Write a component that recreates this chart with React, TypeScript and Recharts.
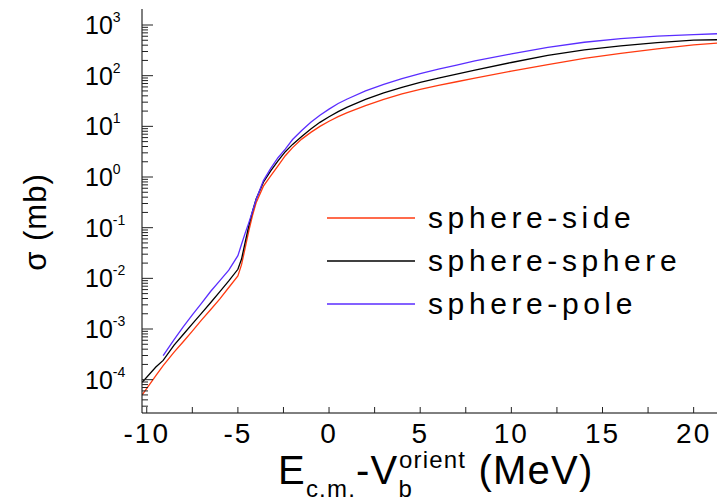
import { LineChart, Line, XAxis, YAxis, Legend, Label } from "recharts"

// E_cm - V_b (MeV)
const energies = [
  -10.25, -9.5, -9.1, -8.5, -8, -7.5, -7, -6.5, -6, -5.5, -5, -4.8, -4.6, -4.4, -4.2, -4,
  -3.6, -3.2, -2.8, -2.4, -2, -1.5, -1, -0.5, 0, 0.5, 1, 2, 3, 4, 5, 6, 7, 8, 10, 12, 14,
  16, 18, 20, 21.5,
]

// cross sections (mb)
const sideSigma = [
  5.0e-5, 1.2e-4, 1.9e-4, 3.5e-4, 5.6e-4, 9.1e-4, 1.5e-3, 2.4e-3, 3.9e-3, 6.6e-3, 1.12e-2,
  1.86e-2, 4.0e-2, 8.7e-2, 0.174, 0.31, 0.66, 1.05, 1.66, 2.63, 3.8, 5.6, 7.6, 10, 12.6,
  15.5, 18.6, 25.7, 33.9, 43.7, 53.7, 64.6, 75.9, 89.1, 123, 166, 219, 275, 339, 407, 447,
]
const sphereSigma = [
  8.9e-5, 1.78e-4, 2.4e-4, 4.8e-4, 7.8e-4, 1.26e-3, 2.04e-3, 3.3e-3, 5.4e-3, 8.9e-3,
  1.51e-2, 2.4e-2, 5.2e-2, 0.11, 0.21, 0.37, 0.79, 1.32, 2.09, 3.16, 4.4, 6.3, 8.9, 12.0,
  15.5, 19.5, 24.0, 33.9, 45.7, 58.9, 74.1, 89.1, 107, 129, 182, 251, 324, 389, 447, 501, 513,
]
const poleSigma = [
  null, null, 3.0e-4, 6.2e-4, 1.1e-3, 1.9e-3, 3.2e-3, 5.5e-3, 8.9e-3, 1.45e-2, 2.8e-2,
  4.7e-2, 7.8e-2, 0.126, 0.21, 0.36, 0.85, 1.48, 2.4, 3.55, 5.5, 8.3, 12.0, 16.6, 21.9,
  28.2, 34.7, 50.1, 67.6, 87.1, 110, 135, 162, 195, 269, 363, 457, 537, 603, 646, 676,
]

const seriesNames = ["sphere-side", "sphere-sphere", "sphere-pole"]

const xTicks = [-10, -7.5, -5, -2.5, 0, 2.5, 5, 7.5, 10, 12.5, 15, 17.5, 20]
const yMajorTicks = [1e-4, 1e-3, 1e-2, 1e-1, 1, 10, 100, 1000]
const yExponents = ["-4", "-3", "-2", "-1", "0", "1", "2", "3"]

const yMinorTicks = [1e-5, ...yMajorTicks.slice(0, -1)]
  .flatMap((d) => [2, 3, 4, 5, 6, 7, 8, 9].map((m) => +(d * m).toPrecision(3)))
  .filter((v) => v > 2.2e-5)
const yTicks = [...yMajorTicks, ...yMinorTicks]

const FONT = '"Liberation Sans", Arial, sans-serif'

const data = energies.map((e, i) => ({
  e,
  side: sideSigma[i],
  sphere: sphereSigma[i],
  pole: poleSigma[i],
}))

function YTick({ x, y, payload }: any) {
  const i = yMajorTicks.indexOf(payload.value)
  const major = i >= 0
  return (
    <g>
      <line x1={x} x2={x + (major ? 11 : 6)} y1={y} y2={y} stroke="#222" strokeWidth={1} />
      {major && (
        <text x={x - 57} y={y + 9} fontSize={25} fill="#000" fontFamily={FONT}>
          10
          <tspan dy={-12} fontSize={14}>
            {yExponents[i]}
          </tspan>
        </text>
      )}
    </g>
  )
}

function XTick({ x, y, payload }: any) {
  const v = payload.value
  const major = v % 5 === 0
  return (
    <g>
      <line x1={x} x2={x} y1={y} y2={y - 6} stroke="#222" strokeWidth={1} />
      {major && (
        <text
          x={x}
          y={y + 30}
          textAnchor="middle"
          fontSize={28}
          letterSpacing={2}
          fill="#000"
          fontFamily={FONT}
        >
          {v}
        </text>
      )}
    </g>
  )
}

function TopTick({ x, y }: any) {
  return <line x1={x} x2={x} y1={y} y2={y + 9} stroke="#222" strokeWidth={1} />
}

function LegendBox({ payload }: any) {
  const items = [...(payload ?? [])].sort(
    (a: any, b: any) => seriesNames.indexOf(a.value) - seriesNames.indexOf(b.value)
  )
  return (
    <svg width={400} height={150} style={{ display: "block", overflow: "visible" }}>
      {items.map((p: any, i: number) => (
        <g key={p.value}>
          <line x1={7} x2={95} y1={29 + 43 * i} y2={29 + 43 * i} stroke={p.color} strokeWidth={1.3} />
          <text
            x={108}
            y={39 + 43 * i}
            fontSize={30}
            letterSpacing={4.6}
            fill="#000"
            fontFamily={FONT}
          >
            {p.value}
          </text>
        </g>
      ))}
    </svg>
  )
}

export default function App() {
  return (
    <div
      style={{
        position: "absolute",
        left: 0,
        top: 0,
        width: 717,
        height: 503,
        overflow: "hidden",
        background: "#fff",
      }}
    >
      <LineChart
        width={721}
        height={503}
        data={data}
        margin={{ top: 9, right: 0, bottom: 0, left: 0 }}
        style={{ fontFamily: FONT }}
      >
        <XAxis
          dataKey="e"
          type="number"
          domain={[-10.26, 21.5]}
          allowDataOverflow
          ticks={xTicks}
          interval={0}
          tickLine={false}
          tickSize={0}
          tickMargin={0}
          height={90}
          axisLine={{ stroke: "#000", strokeWidth: 1 }}
          tick={<XTick />}
        >
          <Label
            content={() => (
              <text x={278} y={484} fontSize={40} letterSpacing={1.2} fill="#000" fontFamily={FONT}>
                E
                <tspan fontSize={24} dy={13}>
                  c.m.
                </tspan>
                <tspan fontSize={40} dy={-13}>
                  -V
                </tspan>
                <tspan fontSize={24} dy={13}>
                  b
                </tspan>
                <tspan fontSize={24} dx={-14} dy={-29}>
                  orient
                </tspan>
                <tspan fontSize={40} dy={16}>
                  {" (MeV)"}
                </tspan>
              </text>
            )}
          />
        </XAxis>
        <XAxis
          xAxisId="top"
          orientation="top"
          type="number"
          domain={[-10.26, 21.5]}
          allowDataOverflow
          ticks={xTicks}
          interval={0}
          tickLine={false}
          tickSize={0}
          tickMargin={0}
          height={0}
          axisLine={{ stroke: "#000", strokeWidth: 1 }}
          tick={<TopTick />}
        />
        <YAxis
          type="number"
          scale="log"
          domain={[2.2e-5, 2070]}
          allowDataOverflow
          ticks={yTicks}
          interval={0}
          tickLine={false}
          tickSize={0}
          tickMargin={0}
          width={142}
          axisLine={{ stroke: "#000", strokeWidth: 1 }}
          tick={<YTick />}
        >
          <Label
            content={() => (
              <text
                x={46}
                y={222}
                transform="rotate(-90, 46, 222)"
                textAnchor="middle"
                fontSize={31}
                letterSpacing={1}
                fill="#000"
                fontFamily={FONT}
              >
                σ (mb)
              </text>
            )}
          />
        </YAxis>
        <Legend
          layout="vertical"
          align="center"
          verticalAlign="middle"
          wrapperStyle={{ left: 320, top: 189, width: 400 }}
          content={<LegendBox />}
        />
        <Line
          dataKey="side"
          name="sphere-side"
          type="linear"
          stroke="#ff3a10"
          strokeWidth={1.3}
          dot={false}
          isAnimationActive={false}
        />
        <Line
          dataKey="sphere"
          name="sphere-sphere"
          type="linear"
          stroke="#000000"
          strokeWidth={1.3}
          dot={false}
          isAnimationActive={false}
        />
        <Line
          dataKey="pole"
          name="sphere-pole"
          type="linear"
          stroke="#5a2dff"
          strokeWidth={1.3}
          dot={false}
          isAnimationActive={false}
        />
      </LineChart>
    </div>
  )
}
